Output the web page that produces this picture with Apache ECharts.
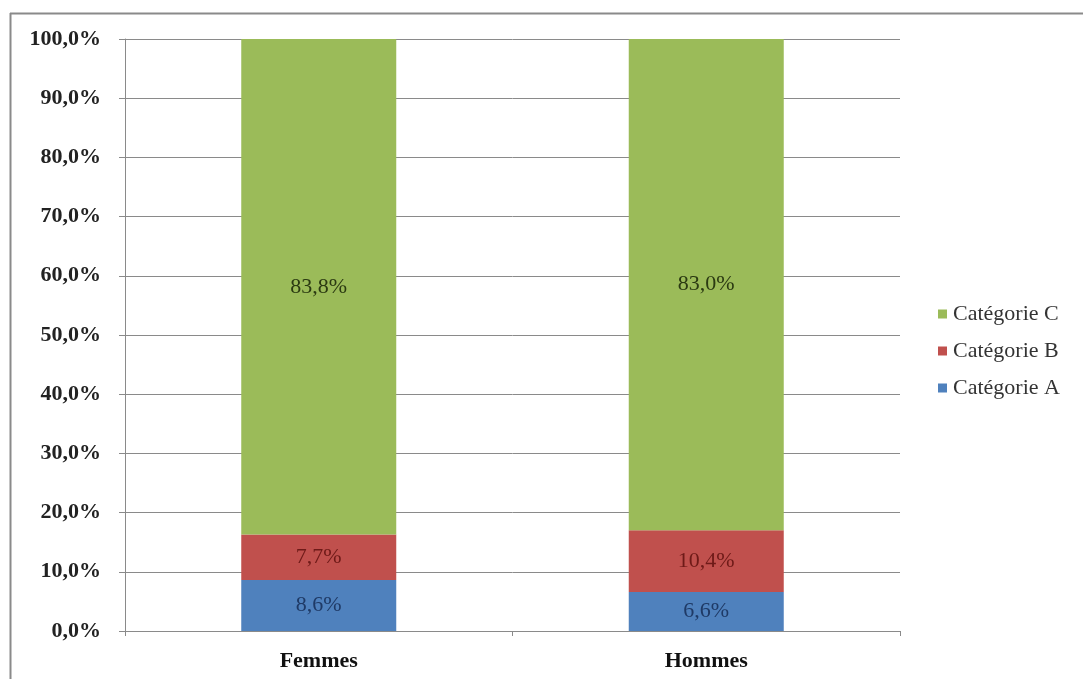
<!DOCTYPE html>
<html>
<head>
<meta charset="utf-8">
<script src="https://cdn.jsdelivr.net/npm/echarts@6/dist/echarts.min.js"></script>
<style>
  html, body { margin: 0; padding: 0; background: #fff; }
  #chart { width: 1083px; height: 679px; }
</style>
</head>
<body>
<div id="chart"></div>
<script>
// Répartition par catégorie selon le sexe (en %)
const categories = ['Femmes', 'Hommes'];
const seriesNames = ['Catégorie A', 'Catégorie B', 'Catégorie C'];
const valuesA = [8.6, 6.6];
const valuesB = [7.7, 10.4];
const valuesC = [83.8, 83.0];
const yTicks = [0, 10, 20, 30, 40, 50, 60, 70, 80, 90, 100];

const colors = ['#4F81BD', '#C0504D', '#9BBB59'];
const labelColors = ['#1F3A66', '#6E1A18', '#2B3A12'];
const serif = '"Liberation Serif", "DejaVu Serif", serif';

const fmt = v => v.toFixed(1).replace('.', ',') + '%';

const chart = echarts.init(document.getElementById('chart'));

const seriesData = [valuesA, valuesB, valuesC];

chart.setOption({
  animation: false,
  backgroundColor: '#fff',
  graphic: [
    { type: 'line', shape: { x1: 10, y1: 13.5, x2: 1083, y2: 13.5 }, style: { stroke: '#8a8a8a', lineWidth: 2 } },
    { type: 'line', shape: { x1: 10.5, y1: 13, x2: 10.5, y2: 679 }, style: { stroke: '#8a8a8a', lineWidth: 2 } }
  ],
  grid: { left: 125, right: 183, top: 39, bottom: 48 },
  legend: {
    orient: 'vertical',
    left: 938,
    top: 303,
    padding: 0,
    itemWidth: 9,
    itemHeight: 9,
    itemGap: 15,
    icon: 'rect',
    data: ['Catégorie C', 'Catégorie B', 'Catégorie A'],
    textStyle: { fontFamily: serif, fontSize: 22, color: '#333', lineHeight: 22, padding: [0, 0, 0, 1] }
  },
  xAxis: {
    type: 'category',
    data: categories,
    axisLine: { lineStyle: { color: '#8a8a8a', width: 1 } },
    axisTick: { show: true, length: 5, alignWithLabel: false, lineStyle: { color: '#8a8a8a' } },
    axisLabel: { fontFamily: serif, fontSize: 22, fontWeight: 'bold', color: '#111', margin: 19 }
  },
  yAxis: {
    type: 'value',
    min: 0,
    max: 100,
    interval: 10,
    axisLine: { show: true, lineStyle: { color: '#8a8a8a', width: 1 } },
    axisTick: { show: true, length: 6, lineStyle: { color: '#8a8a8a' } },
    splitLine: { lineStyle: { color: '#8a8a8a', width: 1 } },
    axisLabel: {
      fontFamily: serif, fontSize: 22, fontWeight: 'bold', color: '#222', margin: 24,
      formatter: v => yTicks.includes(v) ? fmt(v) : ''
    }
  },
  series: seriesNames.map((name, i) => ({
    name,
    type: 'bar',
    stack: 'total',
    barWidth: '40%',
    itemStyle: { color: colors[i] },
    label: {
      show: true,
      position: 'inside',
      fontFamily: serif,
      fontSize: 22,
      color: labelColors[i],
      formatter: p => fmt(p.value)
    },
    data: seriesData[i]
  }))
});
</script>
</body>
</html>
